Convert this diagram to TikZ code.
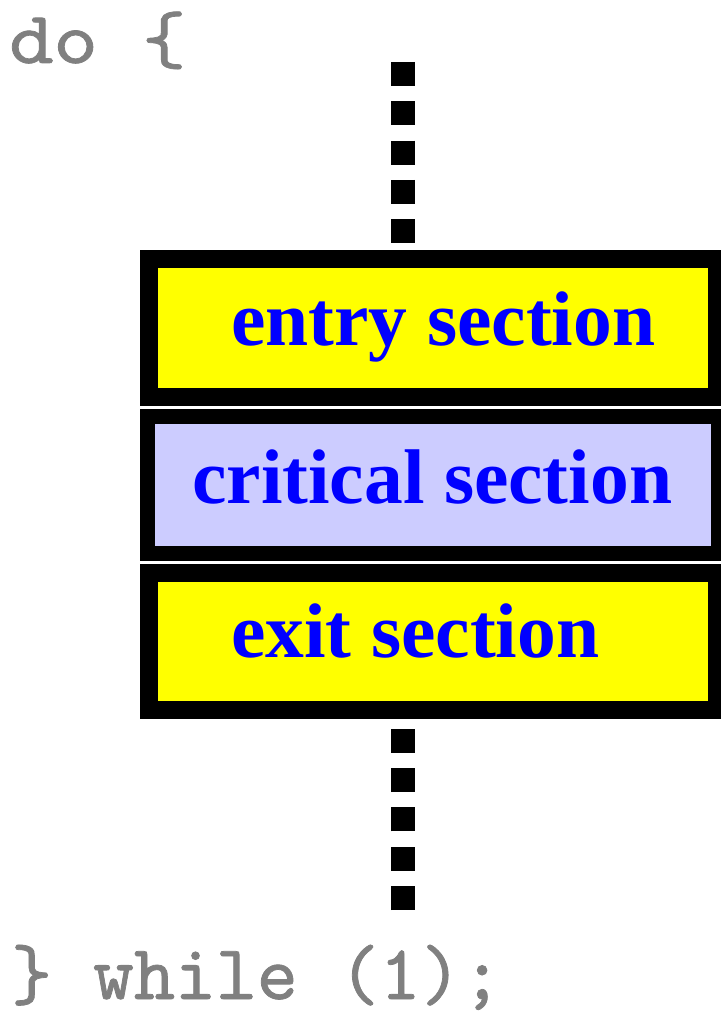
\documentclass[tikz,border=0pt]{standalone}
\usepackage{fontspec}
\setmainfont{Liberation Serif}
\newfontfamily\codefont{lmmono10-regular}[Extension=.otf, FakeBold=1.0]
\definecolor{panelyellow}{HTML}{FFFF00}
\definecolor{panellilac}{HTML}{CCCCFF}
\definecolor{labelblue}{HTML}{0000FF}
\definecolor{codegray}{HTML}{808080}
\begin{document}
\begin{tikzpicture}[x=1pt,y=-1pt,
  frame/.style={fill=black, draw=none, inner sep=0pt, outer sep=0pt,
    minimum width=586pt, anchor=north west},
  panel/.style={draw=none, inner sep=0pt, outer sep=0pt, anchor=north west},
  sectionlabel/.style={inner sep=0pt, anchor=base west, text=labelblue,
    font=\fontsize{77.5}{80}\selectfont\bfseries},
  codeline/.style={inner sep=0pt, anchor=base west, text=codegray},
  dotline/.style={line width=24pt, line cap=butt, dash pattern=on 24pt off 15.3pt}]
\useasboundingbox (0,0) rectangle (720,1016);

% loop header and footer
\node[codeline, font=\fontsize{74}{80}\codefont, xscale=1.14] (dohead) at (9,63) {do \{};
\node[codeline, font=\fontsize{78}{84}\codefont] (whilefoot) at (11,999) {\} while (1);};

% the three stacked sections
\node[frame, minimum height=156pt] (entryframe) at (140,250) {};
\node[panel, fill=panelyellow, minimum width=550pt, minimum height=120pt] (entrypanel) at (158,268) {};
\node[sectionlabel] (entrytext) at (231,345) {entry section};

\node[frame, minimum height=152pt] (critframe) at (140,409) {};
\node[panel, fill=panellilac, minimum width=556pt, minimum height=122pt] (critpanel) at (155,424) {};
\node[sectionlabel] (crittext) at (192,503) {critical section};

\node[frame, minimum height=155pt] (exitframe) at (140,564) {};
\node[panel, fill=panelyellow, minimum width=550pt, minimum height=119pt] (exitpanel) at (158,582) {};
\node[sectionlabel] (exittext) at (231,657) {exit section};

% elided code above and below the sections
\coordinate (topdot) at (403,62);
\coordinate (botdot) at (403,910);
\draw[dotline] (topdot) -- (topdot |- entryframe.north);
\draw[dotline] (botdot) -- (botdot |- exitframe.south);
\end{tikzpicture}
\end{document}
